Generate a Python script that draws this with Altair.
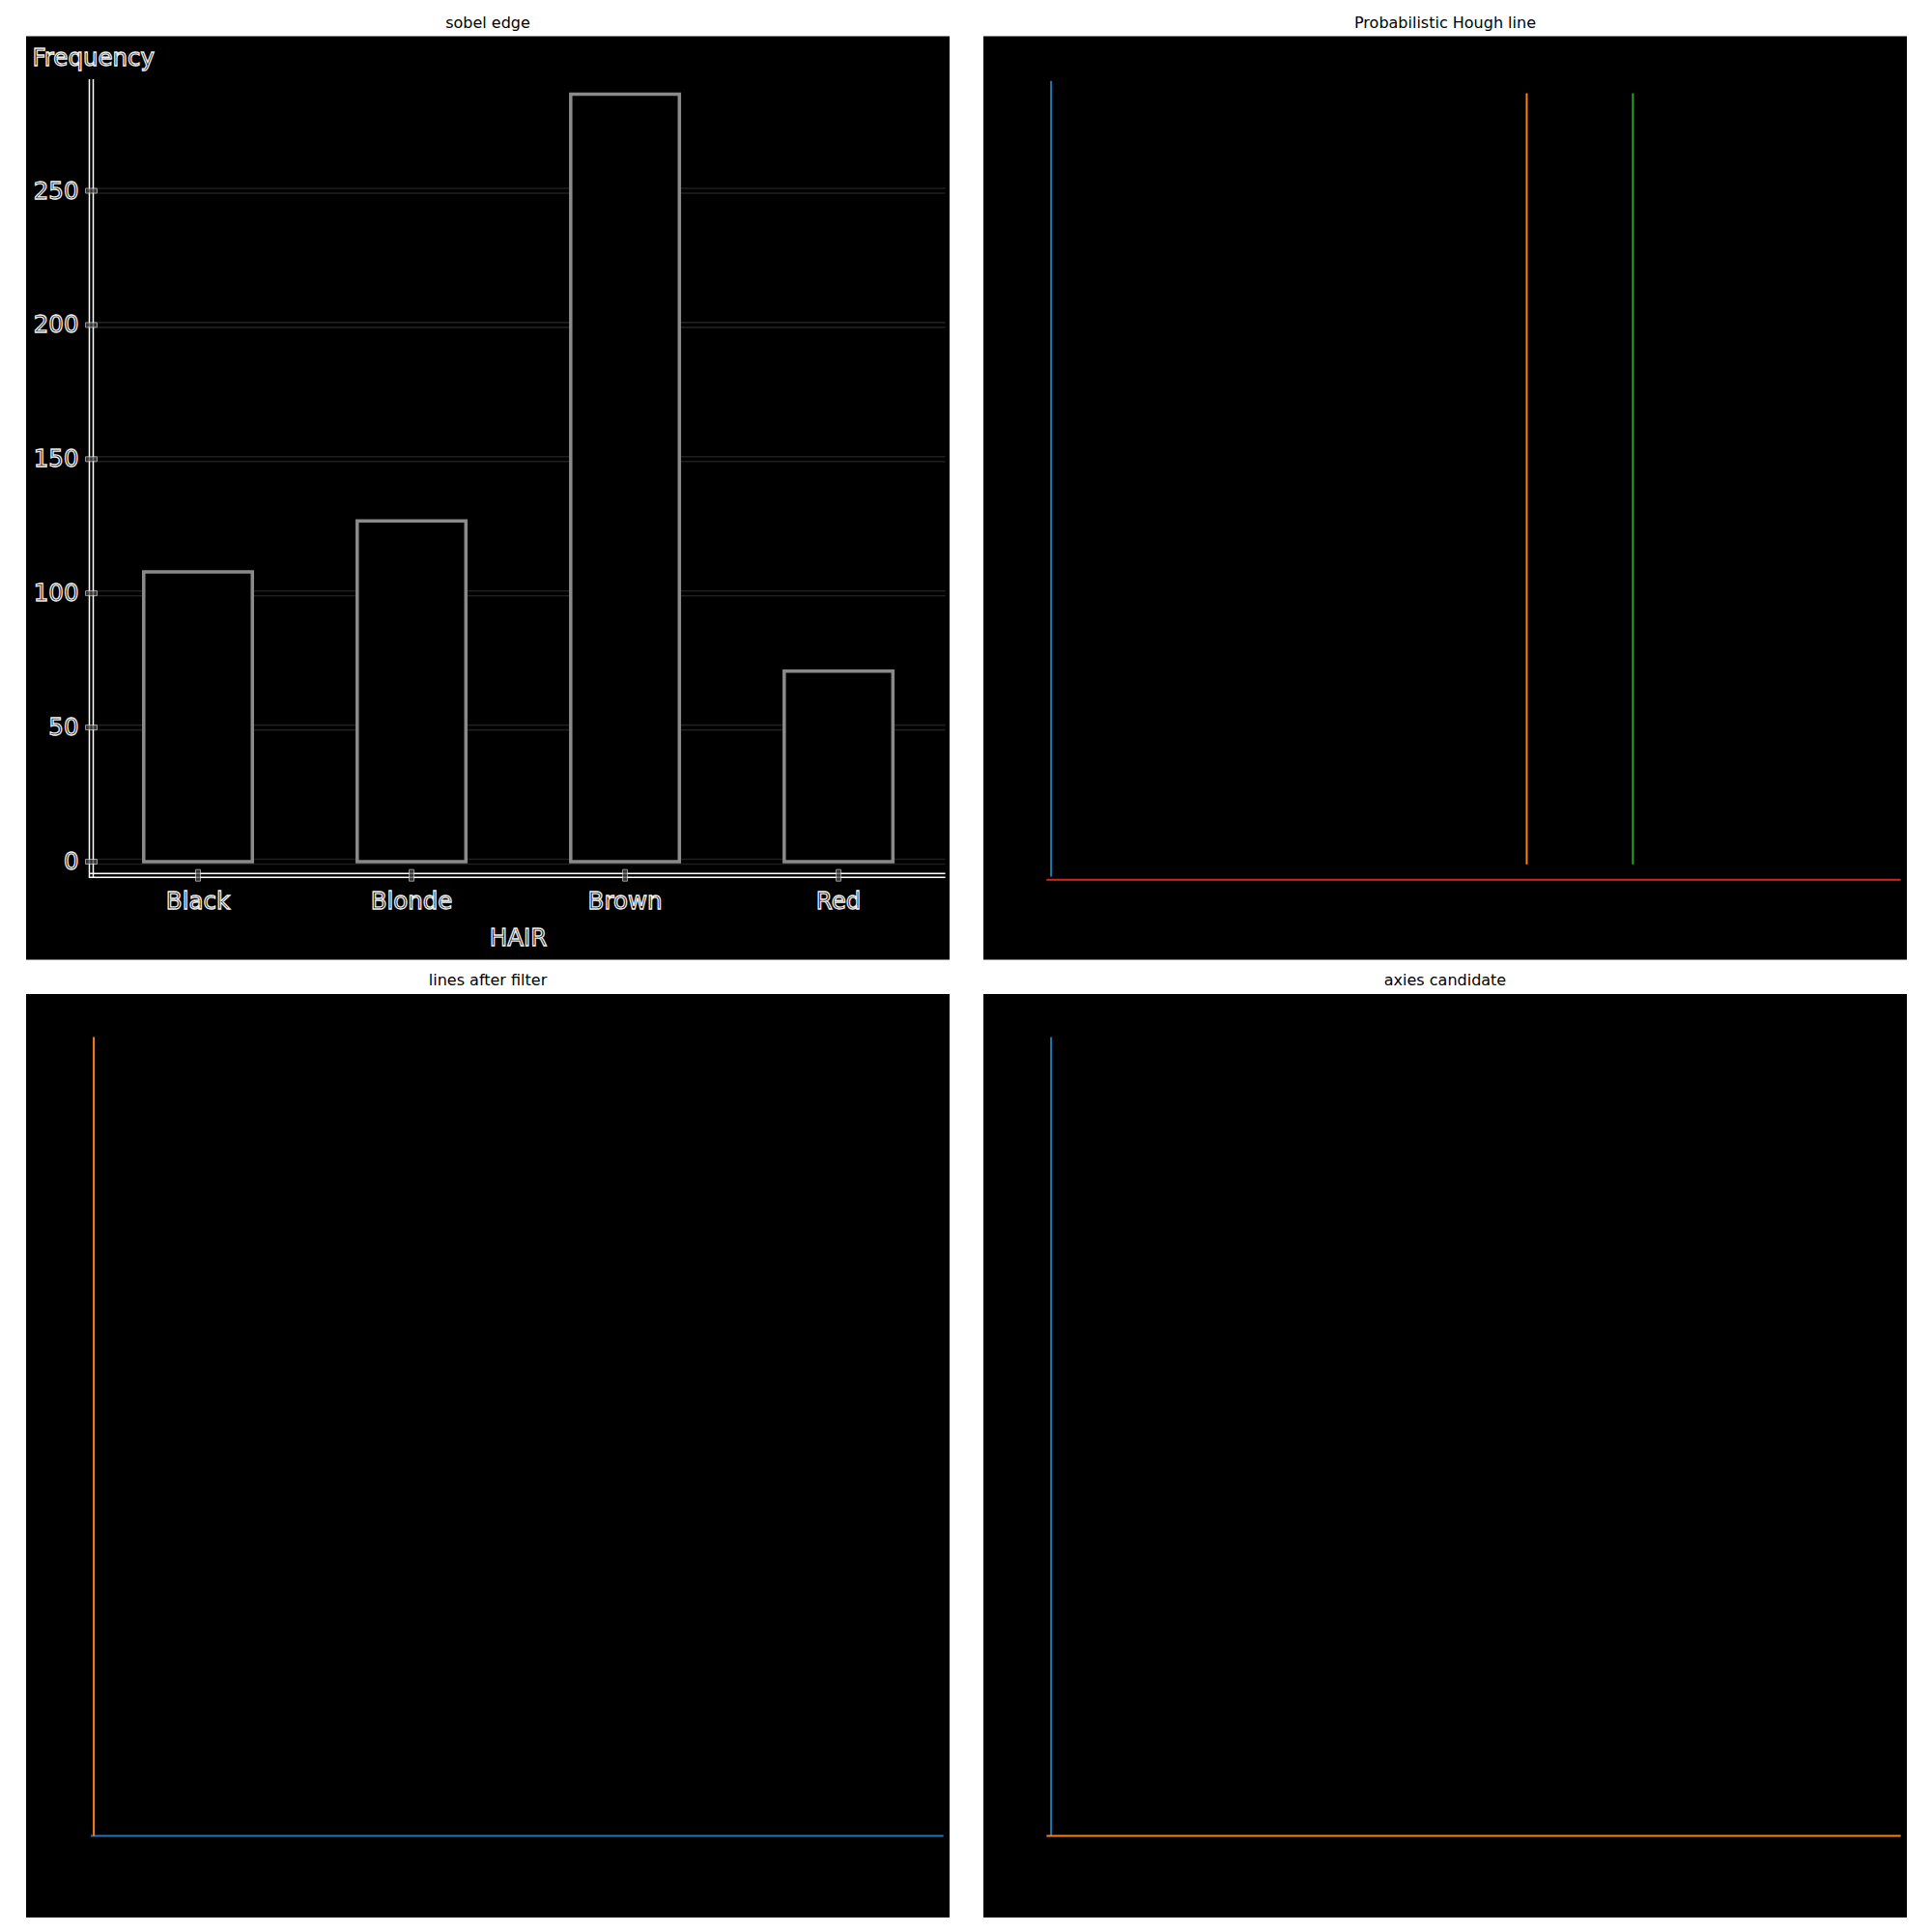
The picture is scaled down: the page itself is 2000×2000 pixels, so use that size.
import altair as alt
import pandas as pd

# ---------------- data ----------------
hair = ["Black", "Blonde", "Brown", "Red"]
counts = [108, 127, 286, 71]
y_ticks = [0, 50, 100, 150, 200, 250]

# Hough line segments in image pixel coordinates (image is 600 x 600)
hough_id = ["l0", "l1", "l2", "l3"]
hough_x1 = [44, 353, 422, 41]
hough_y1 = [29, 37, 37, 548]
hough_x2 = [44, 353, 422, 596]
hough_y2 = [546, 538, 538, 548]

filt_id = ["l0", "l1"]
filt_x1 = [42, 44]
filt_y1 = [547, 28]
filt_x2 = [596, 44]
filt_y2 = [547, 547]

cand_id = ["l0", "l1"]
cand_x1 = [44, 41]
cand_y1 = [28, 547]
cand_x2 = [44, 596]
cand_y2 = [547, 547]

IMG = 600
TAB10 = ["#1f77b4", "#ff7f0e", "#2ca02c", "#d62728"]
PW = 956
FONT = "DejaVu Sans"

# ---------------- panel 1: sobel edge image of a bar chart ----------------
bars = pd.DataFrame({"hair": hair, "count": counts, "idx": list(range(len(hair)))})
ticks = pd.DataFrame({"v": y_ticks, "lab": [str(t) for t in y_ticks]})
one = pd.DataFrame({"k": [0]})

XS = alt.Scale(domain=[-0.8054, 3.520], nice=False, zero=False, padding=0)
YS = alt.Scale(domain=[-36.54, 307.6], nice=False, zero=False, padding=0)
AX_L, AX_R = -0.5, 3.5      # x-axis extent (data units)
AX_Y = -5.4                 # x-axis position (value units)
AX_TOP = 292.3              # y-axis top (value units)

txt = dict(font=FONT, fontSize=24.5, fill="#000000", stroke="#eeeeee", strokeWidth=1.3)

grid = []
for off in (-2.5, 2.5):
    grid.append(
        alt.Chart(ticks).mark_rule(color="#1f1f1f", strokeWidth=1.6, yOffset=off).encode(
            x=alt.datum(AX_L, scale=XS, axis=None),
            x2=alt.datum(AX_R),
            y=alt.Y("v:Q", scale=YS, axis=None),
        )
    )

bar_layer = alt.Chart(bars).mark_bar(
    size=112.5, fill="black", stroke="#8a8a8a", strokeWidth=3.5, orient="vertical"
).encode(
    x=alt.X("idx:Q", scale=XS, axis=None),
    y=alt.Y("count:Q", scale=YS, axis=None),
    y2=alt.datum(0),
)

axis_lines = []
for off in (-2, 2):
    axis_lines.append(
        alt.Chart(one).mark_rule(color="white", strokeWidth=1.5, xOffset=off).encode(
            x=alt.datum(AX_L, scale=XS),
            y=alt.datum(AX_TOP - 0.7, scale=YS),
            y2=alt.datum(AX_Y - 0.7),
        )
    )
    axis_lines.append(
        alt.Chart(one).mark_rule(color="white", strokeWidth=1.5, yOffset=off).encode(
            x=alt.datum(AX_L - 0.009, scale=XS),
            x2=alt.datum(AX_R),
            y=alt.datum(AX_Y + 0.3, scale=YS),
        )
    )

ytick_marks = alt.Chart(ticks).mark_tick(
    orient="horizontal", size=12, thickness=5, fill="#4a4a4a", stroke="#d8d8d8", strokeWidth=1
).encode(x=alt.datum(AX_L, scale=XS), y=alt.Y("v:Q", scale=YS))

xtick_marks = alt.Chart(bars).mark_tick(
    orient="vertical", size=12, thickness=5, fill="#4a4a4a", stroke="#d8d8d8", strokeWidth=1
).encode(x=alt.X("idx:Q", scale=XS), y=alt.datum(AX_Y + 0.3, scale=YS))

ylabels = alt.Chart(ticks).mark_text(align="right", baseline="middle", dx=-13, dy=1, **txt).encode(
    x=alt.datum(AX_L, scale=XS), y=alt.Y("v:Q", scale=YS), text="lab:N"
)
xlabels = alt.Chart(bars).mark_text(align="center", baseline="middle", dy=27, **txt).encode(
    x=alt.X("idx:Q", scale=XS), y=alt.datum(AX_Y, scale=YS), text="hair:N"
)
ytitle = alt.Chart(one).mark_text(align="left", baseline="middle", dx=-61, dy=-19, **txt).encode(
    x=alt.datum(AX_L, scale=XS), y=alt.datum(AX_TOP, scale=YS), text=alt.value("Frequency")
)
xtitle = alt.Chart(one).mark_text(align="center", baseline="middle", dy=65, **txt).encode(
    x=alt.datum((AX_L + AX_R) / 2, scale=XS), y=alt.datum(AX_Y, scale=YS), text=alt.value("HAIR")
)

p1 = alt.layer(
    *grid, bar_layer, *axis_lines, ytick_marks, xtick_marks, ylabels, xlabels, ytitle, xtitle
).properties(width=PW, height=PW, title="sobel edge")


# ---------------- line panels ----------------
def line_panel(ids, x1, y1, x2, y2, title):
    df = pd.DataFrame({"line": ids, "x1": x1, "y1": y1, "x2": x2, "y2": y2})
    sx = alt.Scale(domain=[0, IMG], nice=False, zero=False)
    sy = alt.Scale(domain=[0, IMG], nice=False, zero=False, reverse=True)
    return alt.Chart(df).mark_rule(strokeWidth=2).encode(
        x=alt.X("x1:Q", scale=sx, axis=None),
        x2="x2:Q",
        y=alt.Y("y1:Q", scale=sy, axis=None),
        y2="y2:Q",
        color=alt.Color("line:N", scale=alt.Scale(domain=hough_id, range=TAB10), legend=None),
    ).properties(width=PW, height=PW, title=title)


p2 = line_panel(hough_id, hough_x1, hough_y1, hough_x2, hough_y2, "Probabilistic Hough line")
p3 = line_panel(filt_id, filt_x1, filt_y1, filt_x2, filt_y2, "lines after filter")
p4 = line_panel(cand_id, cand_x1, cand_y1, cand_x2, cand_y2, "axies candidate")

row1 = alt.hconcat(p1, p2, spacing=35).resolve_scale(x="independent", y="independent", color="independent")
row2 = alt.hconcat(p3, p4, spacing=35).resolve_scale(x="independent", y="independent", color="independent")

chart = alt.vconcat(row1, row2, spacing=13.5).resolve_scale(
    x="independent", y="independent", color="independent"
).properties(
    padding={"left": 27, "top": 15.5, "right": 5, "bottom": 5},
    background="white",
).configure_view(fill="black", strokeWidth=0).configure_title(
    font=FONT, fontSize=16, fontWeight="normal", color="black", offset=6, anchor="middle"
)

chart.save("out.html", embed_options={"renderer": "svg", "actions": False})
